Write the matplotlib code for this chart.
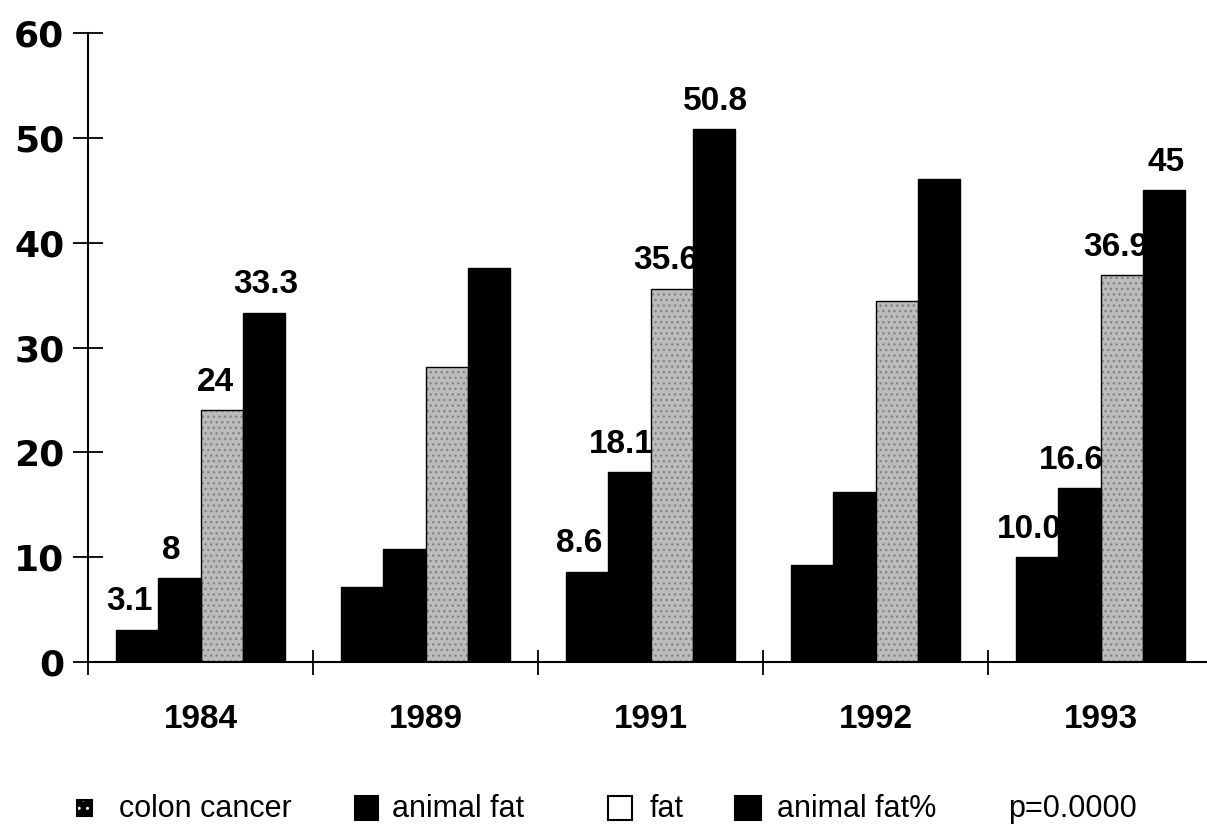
import numpy as np
import matplotlib
matplotlib.use("Agg")
import matplotlib.pyplot as plt
from matplotlib.patches import Rectangle

# values (labelled ones taken from the printed numbers)
years = ["1984", "1989", "1991", "1992", "1993"]
colon_cancer = [3.1, 7.2, 8.6, 9.3, 10.0]
animal_fat = [8, 10.8, 18.1, 16.2, 16.6]
fat = [24, 28.1, 35.6, 34.4, 36.9]
animal_fat_pct = [33.3, 37.6, 50.8, 46.1, 45]

colon_labels = ["3.1", "", "8.6", "", "10.0"]
animal_fat_labels = ["8", "", "18.1", "", "16.6"]
fat_labels = ["24", "", "35.6", "", "36.9"]
animal_fat_pct_labels = ["33.3", "", "50.8", "", "45"]

W, H = 1207, 826
fig = plt.figure(figsize=(W / 100, H / 100), dpi=100)
ax = fig.add_axes([88 / W, (H - 662) / H, (W - 88) / W, 629 / H])

x = np.arange(len(years))
w = 0.187
gray = "#bcbcbc"

series = [
    (colon_cancer, colon_labels, "black", -8),
    (animal_fat, animal_fat_labels, "black", -8),
    (fat, fat_labels, gray, -6),
    (animal_fat_pct, animal_fat_pct_labels, "black", 2),
]

for i, (vals, labels, color, dx) in enumerate(series):
    pos = x + (i - 1.5) * w
    if color == gray:
        ax.bar(pos, vals, w, color=gray, edgecolor="#858585", hatch="...",
               linewidth=0, zorder=2)
        ax.bar(pos, vals, w, fill=False, edgecolor="black", linewidth=1.0,
               zorder=3)
    else:
        ax.bar(pos, vals, w, color="black", edgecolor="black", linewidth=1.0,
               zorder=3)
    for p, v, lab in zip(pos, vals, labels):
        if lab:
            ax.annotate(lab, (p, v), xytext=(dx * 0.72, 14),
                        textcoords="offset points", ha="center",
                        va="baseline", fontsize=24, fontweight="bold",
                        family="Liberation Sans", zorder=4)

ax.set_ylim(0, 60)
ax.set_xlim(-0.5, -0.5 + (W - 88) / 225)

for s in ["top", "right"]:
    ax.spines[s].set_visible(False)
ax.spines["left"].set_linewidth(1.5)
ax.spines["bottom"].set_linewidth(1.5)

ax.set_yticks(range(0, 61, 10))
ax.tick_params(axis="y", direction="inout", length=22, width=1.3, pad=6,
               labelsize=26)
for lbl in ax.get_yticklabels():
    lbl.set_fontweight("bold")
    lbl.set_family("DejaVu Sans")

ax.set_xticks(x)
ax.set_xticklabels(years)
ax.set_xticks(np.arange(len(years)) - 0.5, minor=True)
ax.tick_params(axis="x", which="major", length=0, pad=30, labelsize=24)
ax.tick_params(axis="x", which="minor", direction="inout", length=18,
               width=1.3)
for lbl in ax.get_xticklabels():
    lbl.set_fontweight("bold")
    lbl.set_family("Liberation Sans")

# legend row along the bottom
def px(xp, yp):
    return xp / W, 1 - yp / H

legend_items = [
    ("colon cancer", 77, 15, 16, "spot"),
    ("animal fat", 355, 23, 24, "black"),
    ("fat", 608, 24, 24, "white"),
    ("animal fat%", 735, 26, 24, "black"),
]
text_x = [119, 392, 650, 777]
for (name, sx, sw, sh, kind), tx in zip(legend_items, text_x):
    y0 = 808 + sh / 2
    if kind == "spot":
        fig.add_artist(Rectangle(px(sx, y0), sw / W, sh / H,
                                 transform=fig.transFigure, facecolor="black",
                                 edgecolor="white", hatch="..", linewidth=0))
        fig.add_artist(Rectangle(px(sx, y0), sw / W, sh / H,
                                 transform=fig.transFigure, fill=False,
                                 edgecolor="black", linewidth=1.5))
    else:
        fig.add_artist(Rectangle(px(sx, y0), sw / W, sh / H,
                                 transform=fig.transFigure, facecolor=kind,
                                 edgecolor="black", linewidth=1.5))
    fig.text(*px(tx, 817), name, fontsize=22, family="Liberation Sans",
             va="baseline", ha="left")

fig.text(*px(1008, 817), "p=0.0000", fontsize=22, family="Liberation Sans",
         va="baseline", ha="left")

fig.savefig("out.png", dpi=100)
